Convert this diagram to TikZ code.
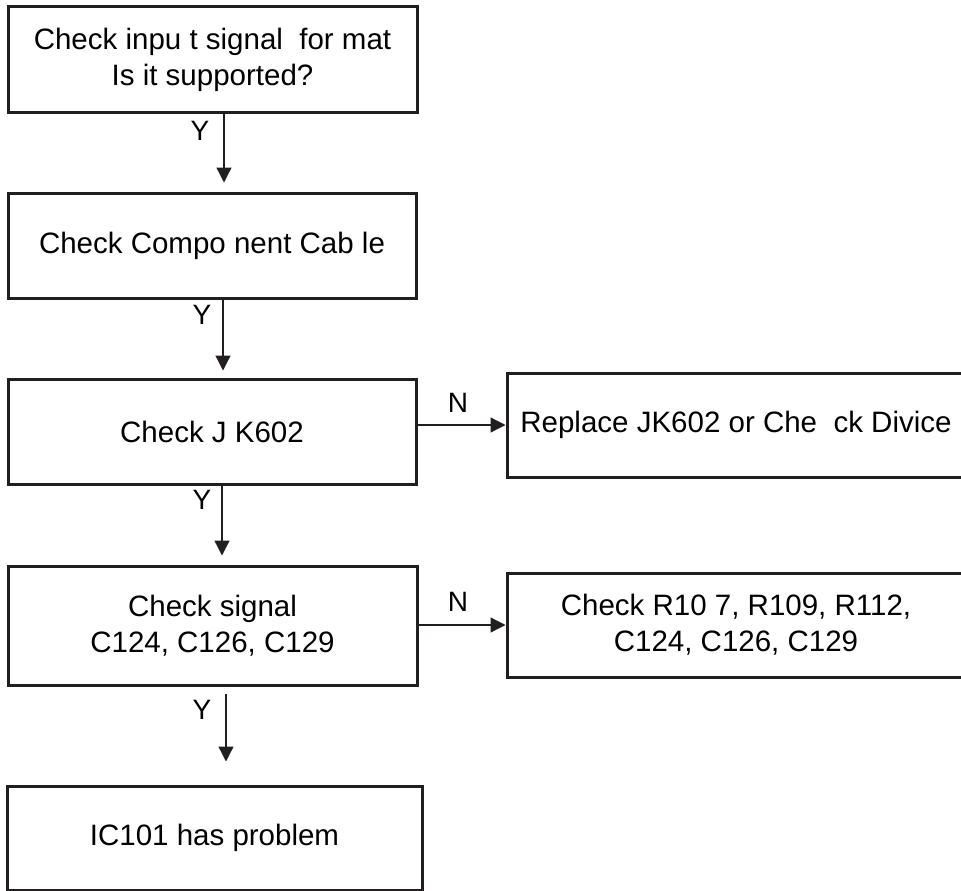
\documentclass[tikz,border=0pt]{standalone}
\usepackage{fontspec}
\setmainfont{Liberation Sans}
\usetikzlibrary{arrows.meta}
\definecolor{ink}{HTML}{231F20}
\tikzset{
  box/.style={draw=ink, line width=3pt, inner sep=0pt, align=center,
              text=black, font=\fontsize{29.5}{36}\selectfont},
  arr/.style={draw=ink, line width=1.3pt,
              -{Triangle[length=15pt,width=15pt]}},
  tag/.style={inner sep=0pt, font=\fontsize{28}{30}\selectfont}
}
\begin{document}
\begin{tikzpicture}[x=1pt,y=-1pt]
  \useasboundingbox (0,0) rectangle (961,891);
  \fill[white] (0,0) rectangle (961,891);
  \clip (0,0) rectangle (961,891);

  % main column
  \node[box, minimum width=409pt, minimum height=105pt] (b1) at (212.5,59.5)
    {Check inpu t signal\ \ for mat\\Is it supported?};
  \node[box, minimum width=408pt, minimum height=105pt] (b2) at (212,245.5)
    {Check Compo nent Cab le};
  \node[box, minimum width=408pt, minimum height=105pt] (b3) at (212,431.5)
    {Check J K602};
  \node[box, minimum width=409pt, minimum height=119pt] (b4) at (212.5,625.5)
    {Check signal\\C124, C126, C129};
  \node[box, minimum width=415pt, minimum height=104pt] (b5) at (214.5,838)
    {IC101 has problem};

  % side boxes (run past the right edge)
  \node[box, minimum width=458pt, minimum height=104pt] (r1) at (736,425)
    {Replace JK602 or Che\ \ ck Divice};
  \node[box, minimum width=458pt, minimum height=104pt] (r2) at (736,625)
    {Check R10 7, R109, R112,\\C124, C126, C129};

  % Y branches
  \draw[arr, shorten >=9pt] ([xshift=11.5pt]b1.south) -- ([xshift=11.5pt]b1.south |- b2.north);
  \draw[arr, shorten >=7pt] ([xshift=11pt]b2.south) -- ([xshift=11pt]b2.south |- b3.north);
  \draw[arr, shorten >=9pt] ([xshift=10pt]b3.south) -- ([xshift=10pt]b3.south |- b4.north);
  \draw[arr, shorten <=7pt, shorten >=23pt] ([xshift=13.5pt]b4.south) -- ([xshift=13.5pt]b4.south |- b5.north);

  \node[tag] (y1) at (200,131) {Y};
  \node[tag] (y2) at (202,315) {Y};
  \node[tag] (y3) at (202,500) {Y};
  \node[tag] (y4) at (202,710) {Y};

  % N branches
  \draw[arr] (b3.east |- r1.west) -- (r1.west);
  \draw[arr] (b4.east |- r2.west) -- (r2.west);

  \node[tag] (n1) at (458,403) {N};
  \node[tag] (n2) at (458,602) {N};
\end{tikzpicture}
\end{document}
